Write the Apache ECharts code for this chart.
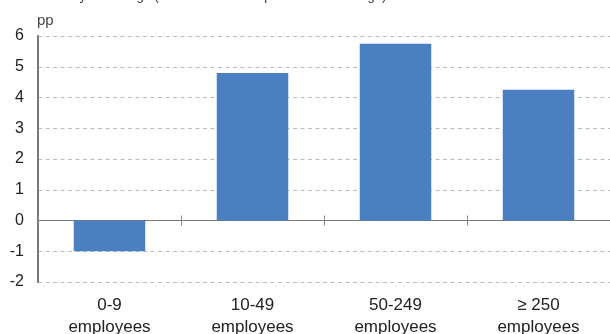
<!DOCTYPE html>
<html>
<head>
<meta charset="utf-8">
<script src="https://cdn.jsdelivr.net/npm/echarts@6/dist/echarts.min.js"></script>
<style>html,body{margin:0;padding:0;background:#fff;}#c{width:610px;height:334px;}</style>
</head>
<body>
<div id="c"></div>
<script>
const titleText = 'Year-on-year change (difference with respect to total average)';
const unitLabel = 'pp';
const categories = ['0-9\nemployees', '10-49\nemployees', '50-249\nemployees', '\u2265 250\nemployees'];
const values = [-1.0, 4.8, 5.75, 4.25];
const yTicks = [-2, -1, 0, 1, 2, 3, 4, 5, 6];

const chart = echarts.init(document.getElementById('c'), null, {renderer: 'canvas'});
const font = 'Liberation Sans, Arial, Helvetica, sans-serif';
chart.setOption({
  animation: false,
  title: {
    text: titleText, left: 30, top: -10, padding: 0,
    textStyle: {fontFamily: font, fontSize: 13, fontWeight: 'normal', color: '#333'}
  },
  grid: {left: 38, right: 0, top: 36, bottom: 52, containLabel: false, outerBoundsMode: 'none'},
  xAxis: [
    {
      type: 'category', data: categories, position: 'bottom',
      axisLine: {onZero: true, onZeroAxisIndex: 0, lineStyle: {color: '#777', width: 1}},
      axisTick: {show: true, inside: false, length: 5, lineStyle: {color: '#888'}},
      axisLabel: {show: false},
      splitLine: {show: false}
    },
    {
      type: 'category', data: categories, position: 'bottom',
      axisLine: {onZero: true, onZeroAxisIndex: 1, lineStyle: {color: '#777', width: 1}},
      axisTick: {show: true, inside: true, length: 5, lineStyle: {color: '#888'}},
      axisLabel: {show: false},
      splitLine: {show: false}
    },
    {
      type: 'category', data: categories, position: 'bottom',
      axisLine: {show: false, onZero: false},
      axisTick: {show: false},
      axisLabel: {show: true, margin: 12, lineHeight: 22, fontFamily: font, fontSize: 17, color: '#222'},
      splitLine: {show: false}
    }
  ],
  yAxis: [
    {
      type: 'value', min: -2, max: 6, interval: 1, position: 'left',
      name: unitLabel, nameLocation: 'end', nameGap: 8,
      nameTextStyle: {fontFamily: font, fontSize: 15, color: '#444', align: 'left', padding: [0, 0, 0, -1]},
      axisLine: {show: true, onZero: false, lineStyle: {color: '#777', width: 2}},
      axisTick: {show: false},
      axisLabel: {fontFamily: font, fontSize: 16, color: '#222', margin: 14,
        formatter: v => yTicks.includes(v) ? String(v) : ''},
      splitLine: {show: true, lineStyle: {color: '#bbb', type: [4, 3.5], width: 1}}
    },
    {
      type: 'value', min: -2, max: 6, interval: 1, position: 'right',
      axisLine: {show: false, onZero: false}, axisTick: {show: false},
      axisLabel: {show: false}, splitLine: {show: false}
    }
  ],
  series: [{
    type: 'bar', data: values, xAxisIndex: 0, yAxisIndex: 0, barWidth: '50%',
    itemStyle: {color: '#4a7fc1'}
  }]
});
</script>
</body>
</html>
